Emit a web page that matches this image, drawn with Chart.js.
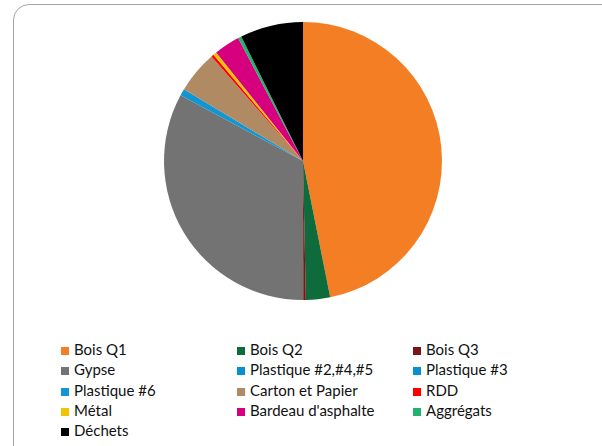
<!DOCTYPE html>
<html>
<head>
<meta charset="utf-8">
<script src="https://cdn.jsdelivr.net/npm/chart.js@4"></script>
<style>
    body { margin: 0; background: #fff; width: 602px; height: 446px; overflow: hidden; position: relative; }
    #frame { position: absolute; left: 13px; top: 4px; width: 640px; height: 480px; border: 1px solid #a6a6a6; border-radius: 16px; }
    #wrap { position: absolute; left: 0; top: 0; width: 602px; height: 322px; }
    #legend { position: absolute; left: 61px; top: 339px; font-family: Lato, "Open Sans", sans-serif; font-size: 15px; color: #111; }
    .item { position: absolute; white-space: nowrap; height: 20px; line-height: 20px; }
    .box { display: inline-block; width: 8px; height: 8px; margin-right: 5px; vertical-align: 0px; }
</style>
</head>
<body>
<div id="frame"></div>
<div id="wrap"><canvas id="pieChart"></canvas></div>
<div id="legend"></div>
<script>
const categories = [
    "Bois Q1", "Bois Q2", "Bois Q3", "Gypse", "Plastique #2,#4,#5", "Plastique #3",
    "Plastique #6", "Carton et Papier", "RDD", "Métal", "Bardeau d'asphalte", "Aggrégats", "Déchets"
];
const shares = [46.7, 2.8, 0.3, 32.75, 0, 0, 0.8, 4.9, 0.3, 0.4, 3.0, 0.4, 7.3];
const colors = [
    "#F47E23", "#0E6B3B", "#7A1517", "#737373", "#0A8FCF", "#0A8FCF",
    "#1196D3", "#B08A62", "#FF0000", "#F0C400", "#D6007F", "#23B26D", "#000000"
];

document.addEventListener("DOMContentLoaded", function () {
    const ctx = document.getElementById("pieChart").getContext("2d");

    const chart = new Chart(ctx, {
        type: "pie",
        data: {
            labels: categories,
            datasets: [{
                data: shares,
                backgroundColor: colors,
                borderWidth: 0
            }]
        },
        options: {
            responsive: true,
            maintainAspectRatio: false,
            animation: false,
            layout: { padding: { left: 4, right: 0, top: 22, bottom: 22 } },
            plugins: {
                legend: { display: false },
                tooltip: { enabled: false }
            }
        }
    });

    // legend in 3 columns, built from the chart's own labels
    const legend = document.getElementById("legend");
    const items = Chart.overrides.pie.plugins.legend.labels.generateLabels(chart);
    const colX = [0, 176, 352];
    items.forEach(function (it, i) {
        const div = document.createElement("div");
        div.className = "item";
        div.style.left = colX[i % 3] + "px";
        div.style.top = (Math.floor(i / 3) * 20.3) + "px";
        div.innerHTML = '<span class="box" style="background:' + it.fillStyle + '"></span>' + it.text;
        legend.appendChild(div);
    });
});
</script>
</body>
</html>
